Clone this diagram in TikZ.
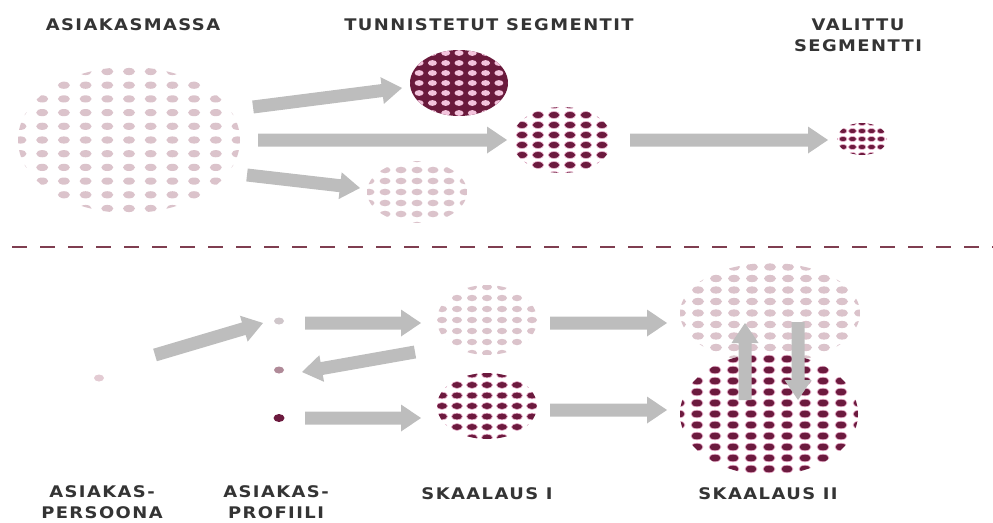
\documentclass[tikz,border=0pt]{standalone}
\usepackage{fontspec}
\usetikzlibrary{calc,shapes.geometric}
\newfontfamily\lblfont{DejaVu Sans}[FakeStretch=1.12,LetterSpace=9]
\definecolor{lightdot}{HTML}{DBC3CB}
\definecolor{darkdot}{HTML}{6C1A3E}
\definecolor{darkbg}{HTML}{6A1A3C}
\definecolor{pinkdot}{HTML}{F3C3DC}
\definecolor{halo}{HTML}{EAB0CC}
\definecolor{arrowgray}{HTML}{BDBDBD}
\definecolor{dashcol}{HTML}{7F3E50}
\definecolor{textcol}{HTML}{343434}
\definecolor{profa}{HTML}{CFC6CA}
\definecolor{profb}{HTML}{B08A98}
\definecolor{persc}{HTML}{E3CBD3}
% #1 cx #2 cy #3 rx #4 ry #5 phase x #6 phase y #7 dx #8 dy #9 dot style
\newcommand\dotgrid[9]{%
  \begin{scope}
    \clip (#1,#2) ellipse [x radius=#3, y radius=#4];
    \pgfmathtruncatemacro\dgnx{ceil(#3/#7)+1}%
    \pgfmathtruncatemacro\dgny{ceil(#4/#8)+1}%
    \foreach \dgi in {-\dgnx,...,\dgnx}{%
      \foreach \dgj in {-\dgny,...,\dgny}{%
        \path[#9] ({#1+(\dgi+#5)*#7},{#2+(\dgj+#6)*#8}) circle;
      }}
  \end{scope}}
\newcommand\blockarrow[2]{%
  \fill[arrowgray] let \p1=(#1), \p2=(#2),
    \n1={atan2(\y2-\y1,\x2-\x1)}, \n2={veclen(\x2-\x1,\y2-\y1)-20pt} in
    ($(\p1)+(\n1+90:6.5pt)$) -- ($(\p1)+(\n1:\n2)+(\n1+90:6.5pt)$)
    -- ($(\p1)+(\n1:\n2)+(\n1+90:13.5pt)$) -- (\p2)
    -- ($(\p1)+(\n1:\n2)+(\n1-90:13.5pt)$) -- ($(\p1)+(\n1:\n2)+(\n1-90:6.5pt)$)
    -- ($(\p1)+(\n1-90:6.5pt)$) -- cycle;}
\tikzset{
  lbl/.style={font=\lblfont\bfseries\fontsize{16pt}{21pt}\selectfont, text=textcol, inner sep=0pt, align=center},
  blob/.style={ellipse, inner sep=0pt, draw=none},
  ldot/.style={fill=lightdot, x radius=6, y radius=3.6},
  ddot/.style={fill=darkdot, draw=halo, line width=0.6pt, x radius=6, y radius=3.6},
  dashline/.style={draw=dashcol, line width=2.8pt, dash pattern=on 15pt off 13pt},
}
\begin{document}
\begin{tikzpicture}[x=1pt,y=-1pt]
\useasboundingbox (0,0) rectangle (993,522);
% labels
\node[lbl] (tmass) at (133,25) {ASIAKASMASSA};
\node[lbl] (tseg) at (489,25) {TUNNISTETUT SEGMENTIT};
\node[lbl] (tval) at (858,35) {VALITTU\\SEGMENTTI};
\node[lbl] (tpers) at (102,502) {ASIAKAS-\\PERSOONA};
\node[lbl] (tprof) at (276,502) {ASIAKAS-\\PROFIILI};
\node[lbl] (ts1) at (487,494) {SKAALAUS I};
\node[lbl] (ts2) at (768,494) {SKAALAUS II};
% blob nodes
\node[blob, minimum width=222pt, minimum height=146pt] (mass) at (129,140) {};
\node[blob, minimum width=98pt, minimum height=66pt] (seg1) at (459,83) {};
\node[blob, minimum width=100pt, minimum height=66pt] (seg2) at (562,140) {};
\node[blob, minimum width=100pt, minimum height=62pt] (seg3) at (417,192) {};
\node[blob, minimum width=50pt, minimum height=32pt] (valittu) at (862,139) {};
\node[blob, minimum width=100pt, minimum height=70pt] (s1a) at (487,320) {};
\node[blob, minimum width=100pt, minimum height=66pt] (s1b) at (487,406) {};
\node[blob, minimum width=180pt, minimum height=100pt] (s2a) at (770,313) {};
\node[blob, minimum width=178pt, minimum height=122pt] (s2b) at (769,414) {};
% dot patterns
\dotgrid{129}{140}{111}{73}{0}{0}{21.7}{13.7}{ldot}
\fill[darkbg] (seg1) ellipse [x radius=49, y radius=33];
\dotgrid{459}{83}{49}{33}{0}{0}{13.3}{10}{fill=pinkdot, x radius=4.5, y radius=2.9}
\dotgrid{562}{140}{50}{33}{0.5}{0.5}{16}{10}{ddot, x radius=5.8, y radius=3.4}
\dotgrid{417}{192}{50}{31}{0}{0}{16}{11}{ldot, x radius=5.5, y radius=3.3}
\dotgrid{862}{139}{25}{16}{0}{0}{9.5}{8}{ddot, x radius=4, y radius=2.6}
\dotgrid{487}{320}{50}{35}{0}{0}{15}{11}{ldot, x radius=5, y radius=3.2}
\dotgrid{487}{406}{50}{33}{0}{0}{15}{10.5}{ddot, x radius=5.5, y radius=3.4}
\dotgrid{770}{313}{90}{50}{0}{0}{18}{11.5}{ldot}
\fill[white] (s2b) ellipse [x radius=89, y radius=61];
\dotgrid{769}{414}{89}{61}{0}{0}{18}{11}{ddot, x radius=6, y radius=3.8}
% small dots
\node[blob, fill=persc, minimum width=10pt, minimum height=7pt] (persona) at (99,378) {};
\node[blob, fill=profa, minimum width=10pt, minimum height=7pt] (prof1) at (279,321) {};
\node[blob, fill=profb, minimum width=10pt, minimum height=7pt] (prof2) at (279,370) {};
\node[blob, fill=darkdot, minimum width=11pt, minimum height=8pt] (prof3) at (279,418) {};
% dashed divider
\coordinate (dl) at (12,247);
\coordinate (dr) at (993,247);
\draw[dashline] (dl) -- (dr);
% arrow end points
\coordinate (a1s) at (253,107); \coordinate (a1e) at (402,88);
\coordinate (a2s) at (258,140); \coordinate (a2e) at (507,140);
\coordinate (a3s) at (247,175); \coordinate (a3e) at (360,188);
\coordinate (a4s) at (630,140); \coordinate (a4e) at (828,140);
\coordinate (b1s) at (155,355); \coordinate (b1e) at (263,323);
\coordinate (b2s) at (305,323); \coordinate (b2e) at (421,323);
\coordinate (b3s) at (415,352); \coordinate (b3e) at (302,372);
\coordinate (b4s) at (305,418); \coordinate (b4e) at (421,418);
\coordinate (b5s) at (550,323); \coordinate (b5e) at (667,323);
\coordinate (b6s) at (550,410); \coordinate (b6e) at (667,410);
\coordinate (ups) at (745,400); \coordinate (upe) at (745,323);
\coordinate (dns) at (798,322); \coordinate (dne) at (798,400);
\blockarrow{a1s}{a1e}
\blockarrow{a2s}{a2e}
\blockarrow{a3s}{a3e}
\blockarrow{a4s}{a4e}
\blockarrow{b1s}{b1e}
\blockarrow{b2s}{b2e}
\blockarrow{b3s}{b3e}
\blockarrow{b4s}{b4e}
\blockarrow{b5s}{b5e}
\blockarrow{b6s}{b6e}
\blockarrow{ups}{upe}
\blockarrow{dns}{dne}
\end{tikzpicture}
\end{document}
